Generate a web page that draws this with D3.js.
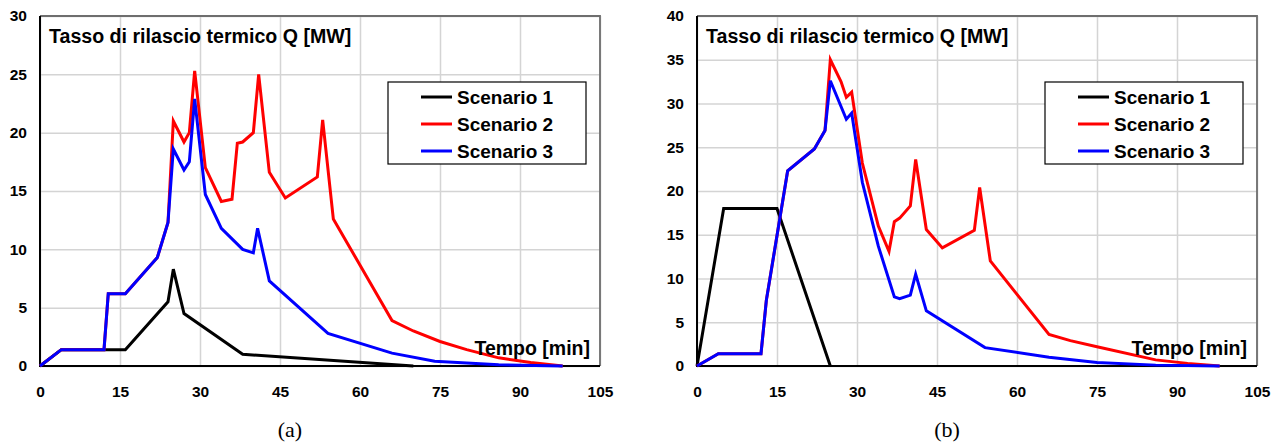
<!DOCTYPE html>
<html>
<head>
<meta charset="utf-8">
<script src="https://cdn.jsdelivr.net/npm/d3@7/dist/d3.min.js"></script>
<style>
  html, body { margin: 0; padding: 0; background: #fff; }
  svg { display: block; }
  text { font-family: "Liberation Sans", Arial, sans-serif; }
  text.caption { font-family: "Liberation Serif", "Times New Roman", serif; }
</style>
</head>
<body>
<svg id="chart" width="1280" height="446"></svg>
<script>
// Heat release rate Q [MW] vs time [min]
const xTicks = [0, 15, 30, 45, 60, 75, 90, 105];
const yTicksA = [0, 5, 10, 15, 20, 25, 30];
const yTicksB = [0, 5, 10, 15, 20, 25, 30, 35, 40];
const seriesNames = ['Scenario 1', 'Scenario 2', 'Scenario 3'];
const seriesColors = ['#000000', '#ff0000', '#0000ff'];

// panel (a)
const scenA1 = [[0,0],[4,1.4],[16,1.4],[24,5.5],[25,8.3],[27,4.5],[38,1.0],[70,0]];
const scenA2 = [[0,0],[4,1.4],[12,1.4],[12.8,6.2],[16,6.2],[22,9.3],[24,12.3],[25,21],[27,19.2],
  [28,20],[29,25.3],[31,17],[34,14.1],[36,14.3],[37,19.1],[38,19.2],[40,20],[41,25],[43,16.6],
  [46,14.4],[52,16.2],[53,21.1],[55,12.6],[66,3.9],[70,3.0],[75,2.1],[80,1.4],[86,0.7],[92,0.3],[98,0]];
const scenA3 = [[0,0],[4,1.4],[12,1.4],[12.8,6.2],[16,6.2],[22,9.3],[24,12.3],[25,18.6],[27,16.8],
  [28,17.5],[29,22.9],[31,14.7],[34,11.8],[38,10.0],[40,9.7],[40.8,11.8],[43,7.3],[54,2.8],
  [66,1.1],[74,0.4],[86,0.1],[98,0]];

// panel (b)
const scenB1 = [[0,0],[5,18],[15,18],[25,0]];
const scenB2 = [[0,0],[4,1.4],[12,1.4],[13,7.5],[17,22.3],[22,24.8],[24,26.9],[25,35],[27,32.5],
  [28,30.7],[29,31.3],[31,23.2],[34,16],[36,13.1],[37,16.5],[38,16.9],[40,18.3],[41,23.6],[43,15.6],
  [46,13.5],[52,15.5],[53,20.4],[55,12],[66,3.6],[70,2.9],[75,2.2],[86,0.7],[92,0.3],[98,0]];
const scenB3 = [[0,0],[4,1.4],[12,1.4],[13,7.5],[17,22.3],[22,24.8],[24,26.9],[25,32.6],[28,28.2],
  [29,28.9],[31,21],[34,13.7],[37,7.9],[38,7.7],[40,8.1],[41,10.5],[43,6.3],[54,2.1],[66,1.0],
  [75,0.4],[86,0.1],[98,0]];

const panels = [
  { left: 40, yMax: 30, yTicks: yTicksA, series: [scenA1, scenA2, scenA3], caption: '(a)' },
  { left: 697, yMax: 40, yTicks: yTicksB, series: [scenB1, scenB2, scenB3], caption: '(b)' }
];

const W = 560, H = 350, TOP = 16;
const svg = d3.select('#chart');

panels.forEach(p => {
  const g = svg.append('g').attr('transform', `translate(${p.left},${TOP})`);
  const x = d3.scaleLinear().domain([0, 105]).range([0, W]);
  const y = d3.scaleLinear().domain([0, p.yMax]).range([H, 0]);

  // grid
  g.append('g')
    .attr('transform', `translate(0,${H})`)
    .call(d3.axisBottom(x).tickValues(xTicks).tickSize(-H).tickFormat(''))
    .call(s => s.select('.domain').remove())
    .call(s => s.selectAll('line').attr('stroke', '#d4d4d4').attr('stroke-width', 1.5));
  g.append('g')
    .call(d3.axisLeft(y).tickValues(p.yTicks).tickSize(-W).tickFormat(''))
    .call(s => s.select('.domain').remove())
    .call(s => s.selectAll('line').attr('stroke', '#d4d4d4').attr('stroke-width', 1.5));

  // frame: gray top/right, black left/bottom
  g.append('path').attr('d', `M0,0H${W}V${H}`).attr('fill', 'none')
    .attr('stroke', '#6e6e6e').attr('stroke-width', 1.8);
  g.append('path').attr('d', `M0,0V${H}H${W}`).attr('fill', 'none')
    .attr('stroke', '#000').attr('stroke-width', 2);

  // tick labels
  g.append('g')
    .attr('transform', `translate(0,${H})`)
    .call(d3.axisBottom(x).tickValues(xTicks).tickSize(0).tickPadding(20))
    .call(s => s.select('.domain').remove())
    .call(s => s.selectAll('text').attr('font-size', 15.5).attr('font-weight', 'bold').attr('fill', '#000'));
  g.append('g')
    .call(d3.axisLeft(y).tickValues(p.yTicks).tickSize(0).tickPadding(13))
    .call(s => s.select('.domain').remove())
    .call(s => s.selectAll('text').attr('font-size', 15.5).attr('font-weight', 'bold').attr('fill', '#000'));

  // lines
  const line = d3.line().x(d => x(d[0])).y(d => y(d[1]));
  p.series.forEach((s, i) => {
    g.append('path').datum(s).attr('d', line).attr('fill', 'none')
      .attr('stroke', seriesColors[i]).attr('stroke-width', 3)
      .attr('stroke-linejoin', 'miter');
  });

  // titles
  g.append('text').attr('x', 9).attr('y', 27)
    .attr('font-size', 19.6).attr('font-weight', 'bold')
    .text('Tasso di rilascio termico Q [MW]');
  g.append('text').attr('x', W - 10).attr('y', H - 11).attr('text-anchor', 'end')
    .attr('font-size', 19.5).attr('font-weight', 'bold')
    .text('Tempo [min]');

  // legend
  const lg = g.append('g').attr('transform', 'translate(348,66)');
  lg.append('rect').attr('width', 198).attr('height', 82)
    .attr('fill', '#fff').attr('stroke', '#000').attr('stroke-width', 1.2);
  seriesNames.forEach((name, i) => {
    const ry = 15 + i * 27;
    lg.append('line').attr('x1', 33).attr('x2', 64).attr('y1', ry).attr('y2', ry)
      .attr('stroke', seriesColors[i]).attr('stroke-width', 3);
    lg.append('text').attr('x', 69).attr('y', ry + 7)
      .attr('font-size', 19).attr('font-weight', 'bold').text(name);
  });

  // caption
  svg.append('text').attr('class', 'caption')
    .attr('x', p.left + 250).attr('y', 437).attr('text-anchor', 'middle')
    .attr('font-size', 22).text(p.caption);
});
</script>
</body>
</html>
